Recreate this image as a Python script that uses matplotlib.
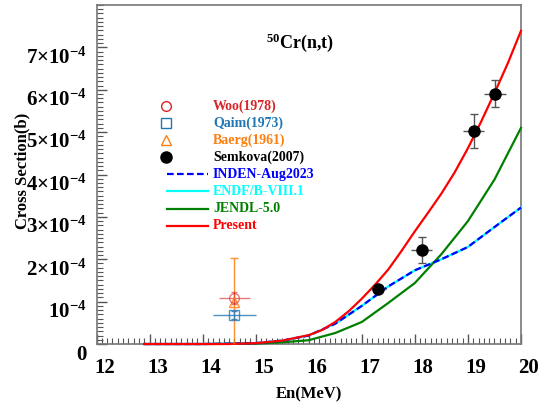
import matplotlib
matplotlib.use("Agg")
import matplotlib.pyplot as plt
from matplotlib.ticker import MultipleLocator, FixedLocator
from matplotlib.transforms import ScaledTranslation

plt.rcParams['font.family'] = 'Liberation Serif'
plt.rcParams['font.weight'] = 'bold'
plt.rcParams['mathtext.fontset'] = 'custom'
plt.rcParams['mathtext.rm'] = 'Liberation Serif:bold'
plt.rcParams['mathtext.it'] = 'Liberation Serif:bold'
plt.rcParams['mathtext.bf'] = 'Liberation Serif:bold'

SCALE = 1e-4

# evaluations / model curves (in units of 1e-4 b)
present_e = [12.9, 14.0, 14.5, 15.0, 15.5, 16.0, 16.25, 16.5, 16.75, 17.0, 17.25, 17.5,
             17.75, 18.0, 18.25, 18.5, 18.75, 19.0, 19.25, 19.5, 19.75, 20.0]
present_xs = [0.0, 0.0, 0.0, 0.02, 0.08, 0.21, 0.33, 0.52, 0.77, 1.07, 1.40, 1.76,
              2.20, 2.66, 3.10, 3.55, 4.05, 4.62, 5.25, 5.92, 6.62, 7.39]

inden_e = [12.9, 14.0, 15.0, 15.5, 16.0, 16.5, 17.0, 17.5, 18.0, 18.5, 19.0, 19.5, 20.0]
inden_xs = [0.0, 0.0, 0.02, 0.08, 0.20, 0.48, 0.90, 1.36, 1.74, 2.00, 2.29, 2.76, 3.22]
endf_xs = inden_xs

jendl_e = [12.9, 14.0, 15.0, 15.5, 16.0, 16.5, 17.0, 17.5, 18.0, 18.5, 19.0, 19.5, 20.0]
jendl_xs = [0.0, 0.0, 0.01, 0.04, 0.09, 0.26, 0.52, 0.97, 1.44, 2.12, 2.90, 3.88, 5.10]

# experimental data
woo_e, woo_de, woo_xs, woo_dxs = [14.6], [0.3], [1.09], [0.14]
qaim_e, qaim_de, qaim_xs, qaim_dxs = [14.6], [0.4], [0.68], [0.10]
baerg_e, baerg_xs, baerg_dxs = [14.6], [1.0], [1.02]
semk_e = [17.31, 18.13, 19.11, 19.51]
semk_de = [0.15, 0.2, 0.2, 0.2]
semk_xs = [1.30, 2.22, 5.02, 5.91]
semk_dxs = [0.10, 0.31, 0.40, 0.32]

ytick_vals = [0, 1, 2, 3, 4, 5, 6, 7]
ytick_labels = ['0', r'$10^{-4}$'] + [r'$%d{\times}10^{-4}$' % v for v in range(2, 8)]
xtick_vals = list(range(12, 21))


def sc(v):
    return [a * SCALE for a in v]


def exp_points(ax, e, de, xs, dxs, marker, col, alpha, ms=7, capsize=2):
    # horizontal bars without caps, vertical bars with caps
    if de is not None:
        ax.errorbar(e, sc(xs), xerr=de, fmt='none', ecolor=col, elinewidth=1.0,
                    capsize=0, alpha=alpha, zorder=6)
    ax.errorbar(e, sc(xs), yerr=sc(dxs), fmt=marker, color=col, mfc='none', ms=ms,
                mew=1.0, elinewidth=1.0, capsize=capsize, alpha=alpha, zorder=6)


fig = plt.figure(figsize=(5.54, 4.12), dpi=100)
ax = fig.add_axes([0.1742, 0.165, 0.7662, 0.8229])

# curves
ax.plot(inden_e, sc(endf_xs), color='cyan', lw=1.6, clip_on=False, zorder=3)
ax.plot(inden_e, sc(inden_xs), color='blue', lw=1.6, ls=(0, (3, 1.5)), clip_on=False, zorder=4)
ax.plot(jendl_e, sc(jendl_xs), color='green', lw=1.6, clip_on=False, zorder=3)
ax.plot(present_e, sc(present_xs), color='red', lw=1.6, clip_on=False, zorder=5)

# experiments
exp_points(ax, baerg_e, None, baerg_xs, baerg_dxs, '^', '#ff7f0e', 0.85, capsize=3)
exp_points(ax, qaim_e, qaim_de, qaim_xs, qaim_dxs, 's', '#1f77b4', 0.8)
exp_points(ax, woo_e, woo_de, woo_xs, woo_dxs, 'o', '#d62728', 0.6)

ax.errorbar(semk_e, sc(semk_xs), xerr=semk_de, fmt='o', color='black',
            ms=8, ecolor='#555555', elinewidth=1.0, capsize=0, zorder=7)
ax.errorbar(semk_e, sc(semk_xs), yerr=sc(semk_dxs), fmt='none', ecolor='#555555',
            elinewidth=1.0, capsize=3, zorder=7)

ax.set_xlim(12, 20)
ax.set_ylim(0, 8e-4)

# ticks
ax.xaxis.set_major_locator(FixedLocator(xtick_vals))
ax.xaxis.set_minor_locator(MultipleLocator(0.1))
ax.set_yticks([v * SCALE for v in ytick_vals])
ax.set_yticklabels(ytick_labels)
ax.yaxis.set_minor_locator(MultipleLocator(0.1 * SCALE))
ax.set_xticklabels([str(v) for v in xtick_vals])
ax.tick_params(which='both', direction='in', top=False, right=False, color='#555555')
ax.tick_params(which='major', length=7, width=1.0)
ax.tick_params(which='minor', length=4, width=0.8)
ax.tick_params(axis='x', labelsize=15, pad=10)
ax.tick_params(axis='y', labelsize=15, pad=7)

for lab in ax.get_xticklabels():
    lab.set_transform(lab.get_transform() + ScaledTranslation(8 / 100, 0, fig.dpi_scale_trans))
for lab in ax.get_yticklabels():
    lab.set_transform(lab.get_transform() + ScaledTranslation(0, -8 / 100, fig.dpi_scale_trans))

for sp in ax.spines.values():
    sp.set_color('#777777')
    sp.set_linewidth(1.2)

ax.set_xlabel('En(MeV)', fontsize=12, fontweight='bold')
ax.xaxis.set_label_coords(0.5, -0.15)
ax.xaxis.label.set_verticalalignment('center')
ax.set_ylabel('Cross Section(b)', fontsize=12, fontweight='bold')
ax.yaxis.set_label_coords(-0.1755, 0.51)
ax.yaxis.label.set_verticalalignment('center')

ax.text(0.479, 0.888, r'$^{50}$Cr(n,t)', transform=ax.transAxes, fontsize=13,
        fontweight='bold', ha='center', va='center')

# legend drawn by hand (ROOT style)
entries = [
    ('Woo(1978)', '#d62728', 'o', None),
    ('Qaim(1973)', '#1f77b4', 's', None),
    ('Baerg(1961)', '#ff7f0e', '^', None),
    ('Semkova(2007)', 'black', 'filled', None),
    ('INDEN-Aug2023', 'blue', None, (0, (3, 1.5))),
    ('ENDF/B-VIII.1', 'cyan', None, '-'),
    ('JENDL-5.0', 'green', None, '-'),
    ('Present', 'red', None, '-'),
]
y0, dy = 0.702, 0.0504
for i, (name, col, mk, ls) in enumerate(entries):
    y = y0 - i * dy
    if mk == 'filled':
        ax.plot([0.1637], [y], 'o', color='black', ms=8, transform=ax.transAxes, clip_on=False)
    elif mk is not None:
        ax.plot([0.1637], [y], mk, color=col, mfc='none', ms=7, mew=1.0,
                transform=ax.transAxes, clip_on=False)
    else:
        ax.plot([0.166, 0.2627], [y, y], color=col, ls=ls, lw=1.6,
                transform=ax.transAxes, clip_on=False)
    ax.text(0.2744, y, name, color=col, fontsize=10, fontweight='bold',
            transform=ax.transAxes, ha='left', va='center')

fig.savefig('out.png', dpi=100)
